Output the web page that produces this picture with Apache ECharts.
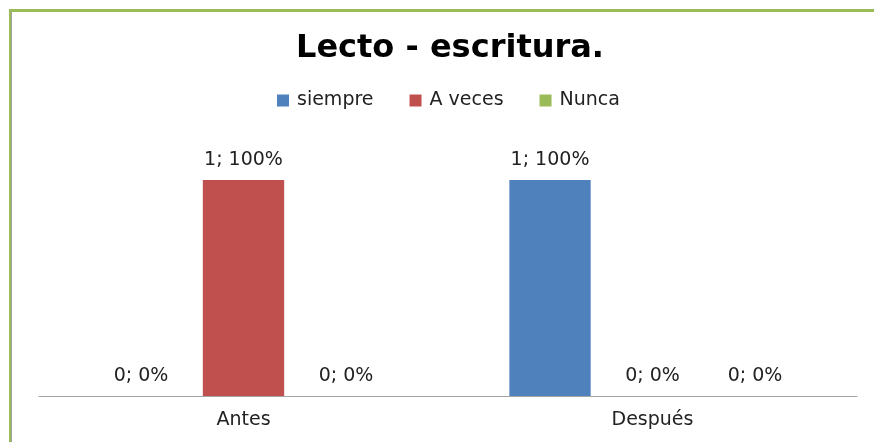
<!DOCTYPE html>
<html>
<head>
<meta charset="utf-8">
<script src="https://cdn.jsdelivr.net/npm/echarts@6/dist/echarts.min.js"></script>
<style>
  html, body { margin: 0; padding: 0; background: #fff; }
  #frame {
    position: absolute; left: 9px; top: 9px; width: 900px; height: 460px;
    border-top: 3px solid #9bbb59; border-left: 2px solid #9bbb59;
    box-shadow: inset 1px 0 0 #a0a0a0;
  }
  #chart { position: absolute; left: 0; top: 0; width: 874px; height: 442px; }
</style>
</head>
<body>
<div id="frame"></div>
<div id="chart"></div>
<script>
const categories = ["Antes", "Después"];
const seriesNames = ["siempre", "A veces", "Nunca"];
const siempre = [0, 1];
const aVeces = [1, 0];
const nunca = [0, 0];
const colors = ["#4f81bd", "#c0504d", "#9bbb59"];

const allData = [siempre, aVeces, nunca];
const totals = categories.map((c, i) => allData.reduce((s, d) => s + d[i], 0));

const chart = echarts.init(document.getElementById("chart"));
const font = "'DejaVu Sans', sans-serif";

chart.setOption({
  animation: false,
  color: colors,
  title: {
    text: "Lecto - escritura.",
    left: 291,
    top: 28,
    textStyle: { fontFamily: font, fontSize: 32, fontWeight: "bold", color: "#000" }
  },
  legend: {
    top: 86,
    left: 272,
    itemWidth: 12,
    itemHeight: 12,
    itemGap: 36,
    icon: "rect",
    textStyle: { fontFamily: font, fontSize: 19, color: "#222", padding: [0, 0, 0, 3] },
    data: seriesNames
  },
  grid: { left: 39, right: 17, top: 180, bottom: 46 },
  xAxis: {
    type: "category",
    data: categories,
    axisTick: { show: false },
    axisLine: { lineStyle: { color: "#a6a6a6", width: 1 } },
    axisLabel: { fontFamily: font, fontSize: 19, color: "#222", margin: 15 }
  },
  yAxis: {
    type: "value",
    min: 0,
    max: 1,
    show: false,
    splitLine: { show: false }
  },
  series: allData.map((d, k) => ({
    name: seriesNames[k],
    type: "bar",
    data: d,
    barGap: "26%",
    barCategoryGap: "30%",
    label: {
      show: true,
      position: "top",
      distance: 10,
      fontFamily: font,
      fontSize: 19,
      color: "#222",
      formatter: p => p.value + "; " + Math.round(totals[p.dataIndex] ? p.value / totals[p.dataIndex] * 100 : 0) + "%"
    }
  }))
});
</script>
</body>
</html>
